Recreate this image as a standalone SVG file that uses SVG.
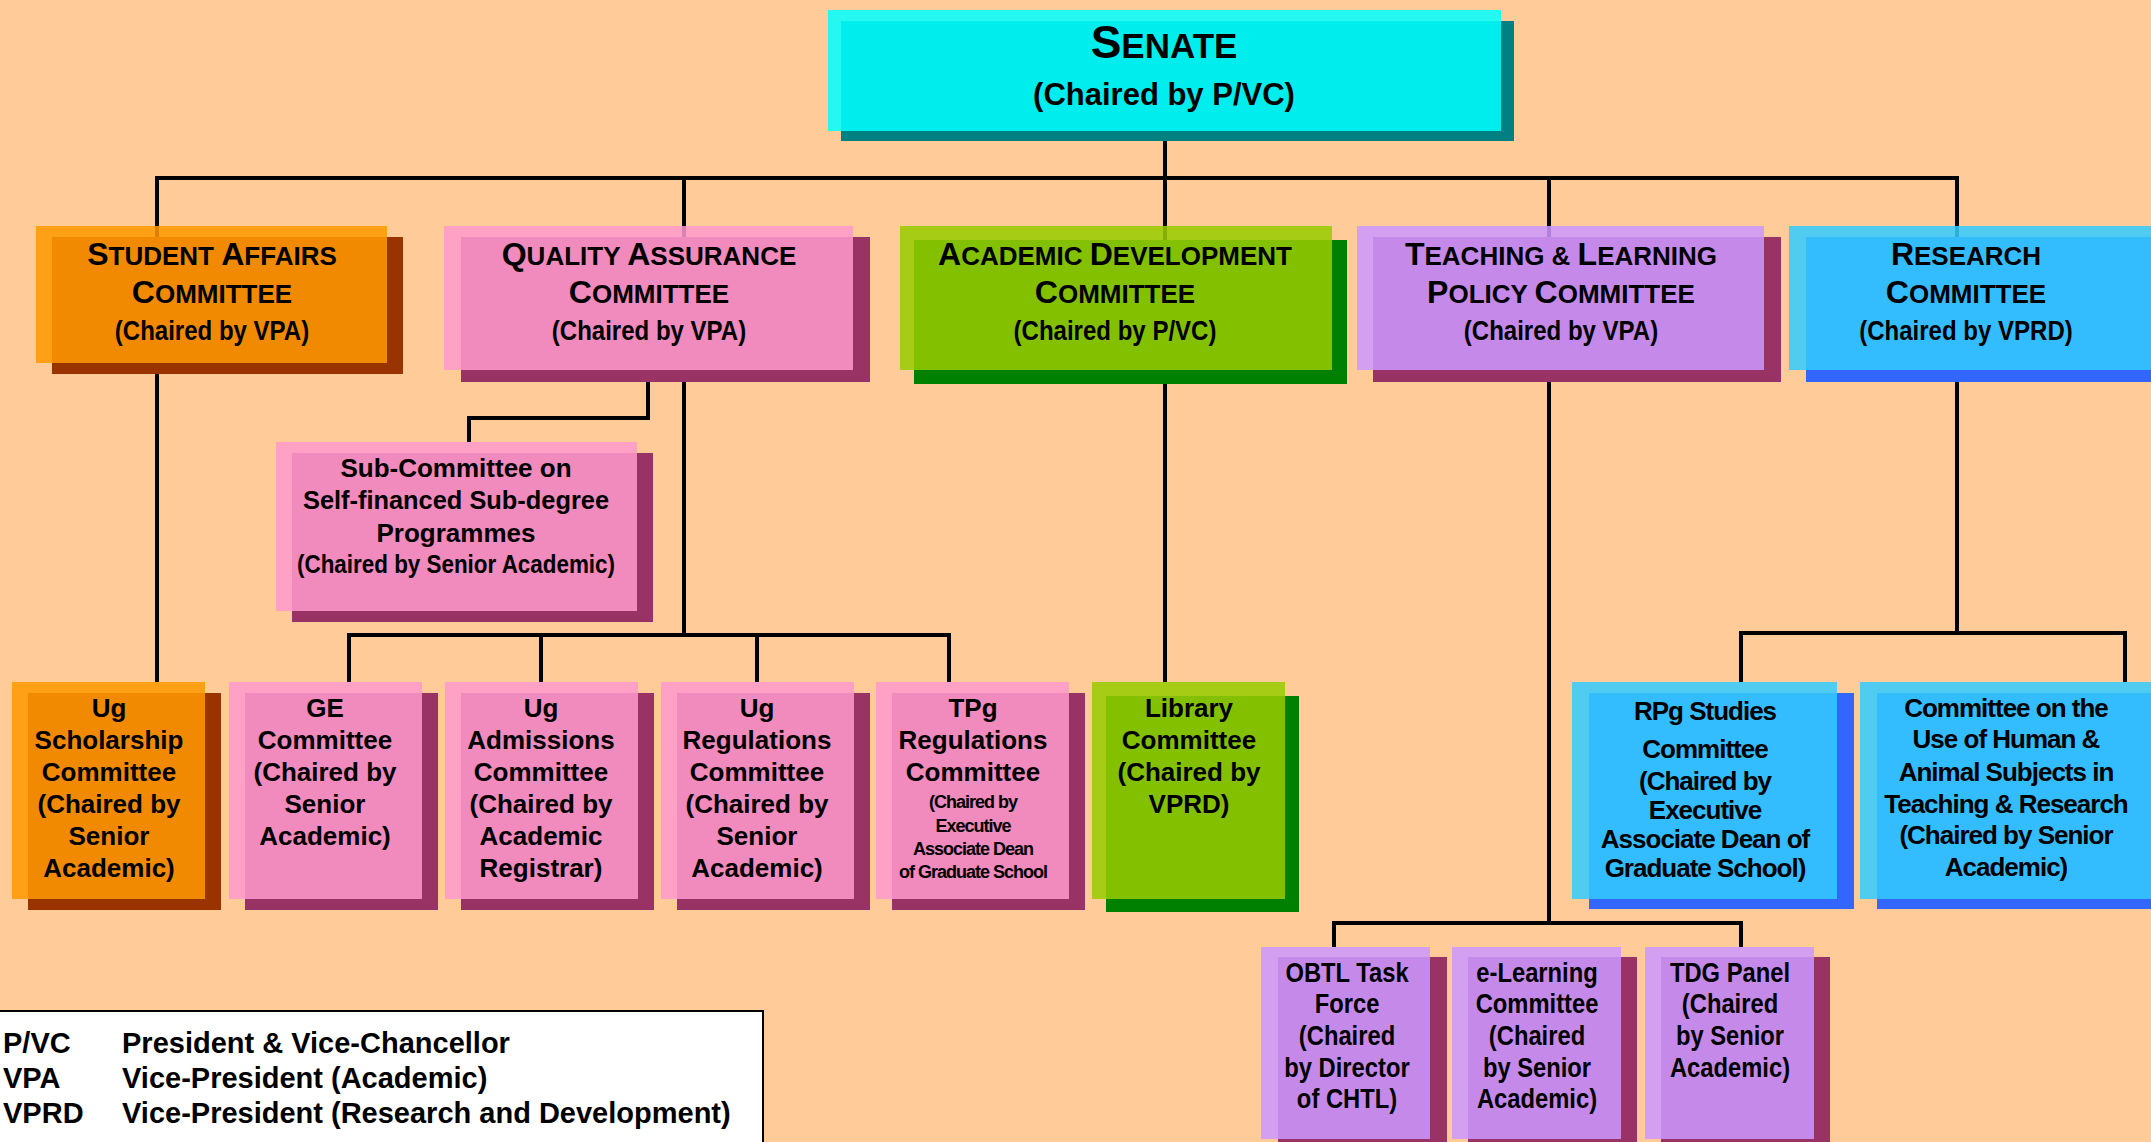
<svg xmlns="http://www.w3.org/2000/svg" width="2151" height="1142" viewBox="0 0 2151 1142">
<style>
text{font-family:"Liberation Sans",Arial,sans-serif;font-weight:bold;fill:#000;text-anchor:middle}
.con{fill:none;stroke:#000;stroke-width:4}
.fr{fill-opacity:0.86}
.t1{font-size:26px}
.bc{font-size:32px}
.ch1{font-size:27px}
.t3{font-size:26px}
.t4{font-size:27px}
.sm{font-size:18px;letter-spacing:-1px}
.tight{letter-spacing:-1px}
.lg{font-size:29px;text-anchor:start}
</style>
<rect x="0" y="0" width="2151" height="1142" fill="#FFCC99"/>
<g id="connectors">
<path class="con" d="M157 682V178H1957V633"/>
<path class="con" d="M1165 130V682"/>
<path class="con" d="M684 178V635"/>
<path class="con" d="M1549 178V923"/>
<path class="con" d="M648 382V418H469V442"/>
<path class="con" d="M349 682V635H949V682"/>
<path class="con" d="M541 635V682"/>
<path class="con" d="M757 635V682"/>
<path class="con" d="M1741 682V633H2125V682"/>
<path class="con" d="M1334 947V923H1741V947"/>
</g>
<g id="senate">
<rect x="841" y="21" width="673" height="120" fill="#008080"/>
<rect class="fr" x="828" y="10" width="673" height="121" fill="#00FFFF"/>
<text x="1164" y="58" style="font-size:35px"><tspan style="font-size:46px">S</tspan>ENATE</text>
<text x="1164" y="105" style="font-size:31px">(Chaired by P/VC)</text>
</g>
<g id="student-affairs">
<rect x="52" y="237" width="351" height="137" fill="#993300"/>
<rect class="fr" x="36" y="226" width="351" height="137" fill="#FF9900"/>
<text class="t1" x="212" y="265"><tspan class="bc">S</tspan>TUDENT <tspan class="bc">A</tspan>FFAIRS</text>
<text class="t1" x="212" y="303"><tspan class="bc">C</tspan>OMMITTEE</text>
<g transform="translate(212 0) scale(0.89 1)"><text class="ch1" x="0" y="340">(Chaired by VPA)</text></g>
</g>
<g id="quality-assurance">
<rect x="461" y="237" width="409" height="145" fill="#993366"/>
<rect class="fr" x="444" y="226" width="409" height="144" fill="#FF99CC"/>
<text class="t1" x="649" y="265"><tspan class="bc">Q</tspan>UALITY <tspan class="bc">A</tspan>SSURANCE</text>
<text class="t1" x="649" y="303"><tspan class="bc">C</tspan>OMMITTEE</text>
<g transform="translate(649 0) scale(0.89 1)"><text class="ch1" x="0" y="340">(Chaired by VPA)</text></g>
</g>
<g id="academic-development">
<rect x="914" y="240" width="433" height="144" fill="#008000"/>
<rect class="fr" x="900" y="226" width="432" height="144" fill="#99CC00"/>
<text class="t1" x="1115" y="265"><tspan class="bc">A</tspan>CADEMIC <tspan class="bc">D</tspan>EVELOPMENT</text>
<text class="t1" x="1115" y="303"><tspan class="bc">C</tspan>OMMITTEE</text>
<g transform="translate(1115 0) scale(0.89 1)"><text class="ch1" x="0" y="340">(Chaired by P/VC)</text></g>
</g>
<g id="teaching-learning">
<rect x="1373" y="237" width="408" height="145" fill="#993366"/>
<rect class="fr" x="1357" y="226" width="407" height="144" fill="#CC99FF"/>
<text class="t1" x="1561" y="265"><tspan class="bc">T</tspan>EACHING &amp; <tspan class="bc">L</tspan>EARNING</text>
<text class="t1" x="1561" y="303"><tspan class="bc">P</tspan>OLICY <tspan class="bc">C</tspan>OMMITTEE</text>
<g transform="translate(1561 0) scale(0.89 1)"><text class="ch1" x="0" y="340">(Chaired by VPA)</text></g>
</g>
<g id="research">
<rect x="1806" y="237" width="360" height="145" fill="#3366FF"/>
<rect class="fr" x="1789" y="226" width="370" height="144" fill="#33CCFF"/>
<text class="t1" x="1966" y="265"><tspan class="bc">R</tspan>ESEARCH</text>
<text class="t1" x="1966" y="303"><tspan class="bc">C</tspan>OMMITTEE</text>
<g transform="translate(1966 0) scale(0.89 1)"><text class="ch1" x="0" y="340">(Chaired by VPRD)</text></g>
</g>
<g id="sub-committee">
<rect x="292" y="453" width="361" height="169" fill="#993366"/>
<rect class="fr" x="276" y="442" width="361" height="169" fill="#FF99CC"/>
<text class="t3" x="456" y="477">Sub-Committee on</text>
<text class="t3" x="456" y="509" textLength="306" lengthAdjust="spacingAndGlyphs">Self-financed Sub-degree</text>
<text class="t3" x="456" y="542">Programmes</text>
<text class="t3" x="456" y="573" textLength="318" lengthAdjust="spacingAndGlyphs">(Chaired by Senior Academic)</text>
</g>
<g id="ug-scholarship">
<rect x="28" y="693" width="193" height="217" fill="#993300"/>
<rect class="fr" x="12" y="682" width="193" height="217" fill="#FF9900"/>
<text class="t3" x="109" y="717">Ug</text>
<text class="t3" x="109" y="749">Scholarship</text>
<text class="t3" x="109" y="781">Committee</text>
<text class="t3" x="109" y="813">(Chaired by</text>
<text class="t3" x="109" y="845">Senior</text>
<text class="t3" x="109" y="877">Academic)</text>
</g>
<g id="ge-committee">
<rect x="245" y="693" width="193" height="217" fill="#993366"/>
<rect class="fr" x="229" y="682" width="193" height="217" fill="#FF99CC"/>
<text class="t3" x="325" y="717">GE</text>
<text class="t3" x="325" y="749">Committee</text>
<text class="t3" x="325" y="781">(Chaired by</text>
<text class="t3" x="325" y="813">Senior</text>
<text class="t3" x="325" y="845">Academic)</text>
</g>
<g id="ug-admissions">
<rect x="461" y="693" width="193" height="217" fill="#993366"/>
<rect class="fr" x="445" y="682" width="193" height="217" fill="#FF99CC"/>
<text class="t3" x="541" y="717">Ug</text>
<text class="t3" x="541" y="749">Admissions</text>
<text class="t3" x="541" y="781">Committee</text>
<text class="t3" x="541" y="813">(Chaired by</text>
<text class="t3" x="541" y="845">Academic</text>
<text class="t3" x="541" y="877">Registrar)</text>
</g>
<g id="ug-regulations">
<rect x="677" y="693" width="193" height="217" fill="#993366"/>
<rect class="fr" x="661" y="682" width="193" height="217" fill="#FF99CC"/>
<text class="t3" x="757" y="717">Ug</text>
<text class="t3" x="757" y="749">Regulations</text>
<text class="t3" x="757" y="781">Committee</text>
<text class="t3" x="757" y="813">(Chaired by</text>
<text class="t3" x="757" y="845">Senior</text>
<text class="t3" x="757" y="877">Academic)</text>
</g>
<g id="tpg-regulations">
<rect x="892" y="693" width="193" height="217" fill="#993366"/>
<rect class="fr" x="876" y="682" width="193" height="217" fill="#FF99CC"/>
<text class="t3" x="973" y="717">TPg</text>
<text class="t3" x="973" y="749">Regulations</text>
<text class="t3" x="973" y="781">Committee</text>
<text class="sm" x="973" y="808">(Chaired by</text>
<text class="sm" x="973" y="832">Executive</text>
<text class="sm" x="973" y="855">Associate Dean</text>
<text class="sm" x="973" y="878">of Graduate School</text>
</g>
<g id="library">
<rect x="1106" y="696" width="193" height="216" fill="#008000"/>
<rect class="fr" x="1092" y="682" width="193" height="217" fill="#99CC00"/>
<text class="t3" x="1189" y="717">Library</text>
<text class="t3" x="1189" y="749">Committee</text>
<text class="t3" x="1189" y="781">(Chaired by</text>
<text class="t3" x="1189" y="813">VPRD)</text>
</g>
<g id="rpg-studies">
<rect x="1589" y="693" width="265" height="216" fill="#3366FF"/>
<rect class="fr" x="1572" y="682" width="265" height="217" fill="#33CCFF"/>
<text class="t3 tight" x="1705" y="720">RPg Studies</text>
<text class="t3 tight" x="1705" y="758">Committee</text>
<text class="t3 tight" x="1705" y="790">(Chaired by</text>
<text class="t3 tight" x="1705" y="819">Executive</text>
<text class="t3 tight" x="1705" y="848">Associate Dean of</text>
<text class="t3 tight" x="1705" y="877">Graduate School)</text>
</g>
<g id="human-animal">
<rect x="1877" y="693" width="290" height="216" fill="#3366FF"/>
<rect class="fr" x="1860" y="682" width="295" height="217" fill="#33CCFF"/>
<text class="t3 tight" x="2006" y="717">Committee on the</text>
<text class="t3 tight" x="2006" y="748">Use of Human &amp;</text>
<text class="t3 tight" x="2006" y="781">Animal Subjects in</text>
<text class="t3 tight" x="2006" y="813">Teaching &amp; Research</text>
<text class="t3 tight" x="2006" y="844">(Chaired by Senior</text>
<text class="t3 tight" x="2006" y="876">Academic)</text>
</g>
<g id="obtl">
<rect x="1278" y="957" width="169" height="190" fill="#993366"/>
<rect class="fr" x="1261" y="947" width="169" height="192" fill="#CC99FF"/>
<g transform="translate(1347 0) scale(0.88 1)">
<text class="t4" x="0" y="982">OBTL Task</text>
<text class="t4" x="0" y="1013">Force</text>
<text class="t4" x="0" y="1045">(Chaired</text>
<text class="t4" x="0" y="1077">by Director</text>
<text class="t4" x="0" y="1108">of CHTL)</text>
</g>
</g>
<g id="e-learning">
<rect x="1468" y="957" width="169" height="190" fill="#993366"/>
<rect class="fr" x="1452" y="947" width="169" height="192" fill="#CC99FF"/>
<g transform="translate(1537 0) scale(0.88 1)">
<text class="t4" x="0" y="982">e-Learning</text>
<text class="t4" x="0" y="1013">Committee</text>
<text class="t4" x="0" y="1045">(Chaired</text>
<text class="t4" x="0" y="1077">by Senior</text>
<text class="t4" x="0" y="1108">Academic)</text>
</g>
</g>
<g id="tdg">
<rect x="1661" y="957" width="169" height="190" fill="#993366"/>
<rect class="fr" x="1645" y="947" width="169" height="192" fill="#CC99FF"/>
<g transform="translate(1730 0) scale(0.88 1)">
<text class="t4" x="0" y="982">TDG Panel</text>
<text class="t4" x="0" y="1013">(Chaired</text>
<text class="t4" x="0" y="1045">by Senior</text>
<text class="t4" x="0" y="1077">Academic)</text>
</g>
</g>
<g id="legend">
<rect x="-2" y="1011" width="765" height="140" fill="#FFFFFF" stroke="#000" stroke-width="2"/>
<text class="lg" x="3" y="1053">P/VC</text>
<text class="lg" x="122" y="1053">President &amp; Vice-Chancellor</text>
<text class="lg" x="3" y="1088">VPA</text>
<text class="lg" x="122" y="1088">Vice-President (Academic)</text>
<text class="lg" x="3" y="1123">VPRD</text>
<text class="lg" x="122" y="1123">Vice-President (Research and Development)</text>
</g>
</svg>
